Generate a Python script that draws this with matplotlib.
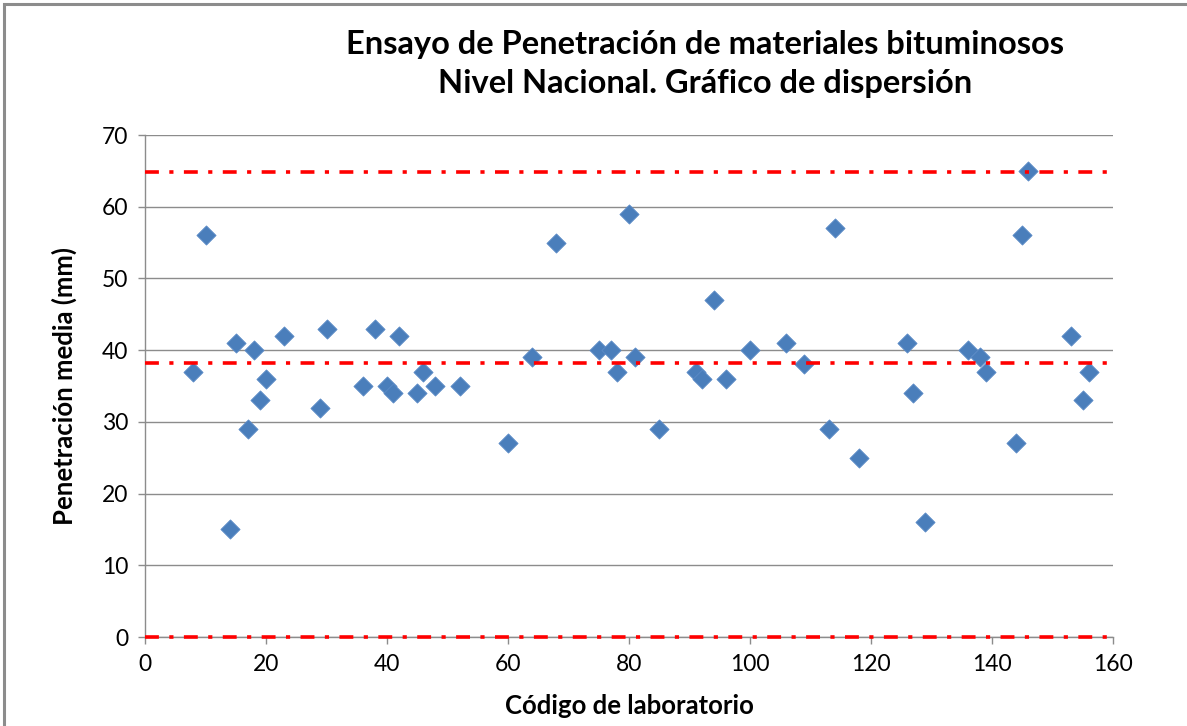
import numpy as np
import matplotlib
matplotlib.use('Agg')
import matplotlib.pyplot as plt
from matplotlib.patches import Rectangle

# lab codes and mean penetration readings
codigo = [8, 10, 14, 15, 17, 18, 19, 20, 23, 29, 30, 36, 38, 40, 41, 42, 45, 46, 48, 52,
          60, 64, 68, 75, 77, 78, 80, 81, 85, 91, 92, 94, 96, 100, 106, 109,
          113, 114, 118, 126, 127, 129, 136, 138, 139, 144, 145, 146, 153, 155, 156]
penetracion = [37, 56, 15, 41, 29, 40, 33, 36, 42, 32, 43, 35, 43, 35, 34, 42, 34, 37, 35, 35,
               27, 39, 55, 40, 40, 37, 59, 39, 29, 37, 36, 47, 36, 40, 41, 38,
               29, 57, 25, 41, 34, 16, 40, 39, 37, 27, 56, 65, 42, 33, 37]

# reference lines (upper limit, mean, lower limit)
lineas_ref = [64.8, 38.2, 0.0]

titulo = 'Ensayo de Penetración de materiales bituminosos\nNivel Nacional. Gráfico de dispersión'
xlabel = 'Código de laboratorio'
ylabel = 'Penetración media (mm)'

plt.rcParams['font.family'] = ['Lato', 'DejaVu Sans']
plt.rcParams['lines.scale_dashes'] = False

W, H = 1187, 726
fig = plt.figure(figsize=(W / 100, H / 100), dpi=100)

# chart frame
fig.patches.append(Rectangle((4 / W, -0.05), 1.1, 1 - 4 / H + 0.05, transform=fig.transFigure,
                             fill=False, edgecolor='#8c8c8c', linewidth=2.2))

ax = fig.add_axes([145 / W, (H - 637) / H, 968 / W, 502 / H])

ax.scatter(codigo, penetracion, marker='D', s=95, color='#4a7ebb',
           edgecolors='#5b8ac6', linewidths=0.6, zorder=3)

for yv in lineas_ref:
    ax.axhline(yv, color='red', linewidth=2.6, linestyle=(0, (10, 7.5, 3, 7.5)),
               dash_capstyle='butt', zorder=4, clip_on=False)

ax.set_xlim(0, 160)
ax.set_ylim(0, 70)
ax.set_xticks(np.arange(0, 161, 20))
ax.set_yticks(np.arange(0, 71, 10))
ax.grid(axis='y', color='#8c8c8c', linewidth=1.0)
ax.set_axisbelow(True)
for s in ['top', 'right']:
    ax.spines[s].set_visible(False)
for s in ['left', 'bottom']:
    ax.spines[s].set_color('#8c8c8c')
    ax.spines[s].set_linewidth(1.0)
ax.tick_params(axis='both', direction='out', length=5, width=1, color='#8c8c8c',
               labelsize=16.5, pad=7)

ax.set_xlabel(xlabel, fontsize=18.5, fontweight='bold', labelpad=14)
ax.set_ylabel(ylabel, fontsize=18.5, fontweight='bold', labelpad=18)

fig.text(705 / W, 1 - 64 / H, titulo, ha='center', va='center', fontsize=23.5,
         fontweight='bold', linespacing=1.4)

fig.savefig('out.png', dpi=100)
